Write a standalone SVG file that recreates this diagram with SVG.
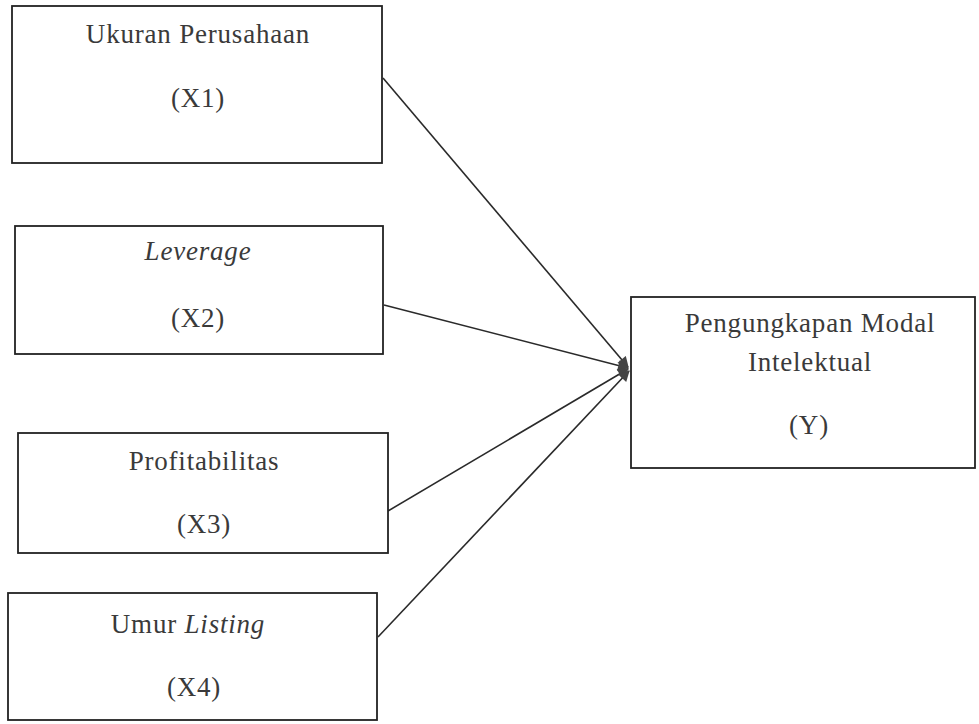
<svg xmlns="http://www.w3.org/2000/svg" width="979" height="724" viewBox="0 0 979 724">
<style>
.box{fill:#fff;stroke:#222;stroke-width:1.8}
.t{font-family:"Liberation Serif","Times New Roman",serif;font-size:27px;fill:#3a3a3a;text-anchor:middle;letter-spacing:0.8px}
.i{font-style:italic}
.c{fill:none;stroke:#2a2a2a;stroke-width:1.6}
</style>
<defs>
<marker id="ah" viewBox="0 0 10 10" refX="9" refY="5" markerWidth="13" markerHeight="11" orient="auto" markerUnits="userSpaceOnUse">
<path d="M0,0 L10,5 L0,10 z" fill="#444"/>
</marker>
</defs>
<rect width="979" height="724" fill="#fff"/>
<g id="connectors">
<line class="c" x1="383" y1="78" x2="628" y2="367" marker-end="url(#ah)"/>
<line class="c" x1="384" y1="305" x2="628" y2="368" marker-end="url(#ah)"/>
<line class="c" x1="388" y1="511" x2="628" y2="369" marker-end="url(#ah)"/>
<line class="c" x1="378" y1="637" x2="629" y2="371" marker-end="url(#ah)"/>
</g>
<g id="x1">
<rect class="box" x="12" y="6" width="370" height="157"/>
<text class="t" x="198" y="43">Ukuran Perusahaan</text>
<text class="t" x="198" y="107">(X1)</text>
</g>
<g id="x2">
<rect class="box" x="15" y="226" width="368" height="128"/>
<text class="t i" x="198" y="260">Leverage</text>
<text class="t" x="198" y="327">(X2)</text>
</g>
<g id="x3">
<rect class="box" x="18" y="433" width="370" height="120"/>
<text class="t" x="204" y="470">Profitabilitas</text>
<text class="t" x="204" y="533">(X3)</text>
</g>
<g id="x4">
<rect class="box" x="8" y="593" width="369" height="127"/>
<text class="t" x="188" y="633">Umur <tspan class="i">Listing</tspan></text>
<text class="t" x="194" y="696">(X4)</text>
</g>
<g id="y">
<rect class="box" x="631" y="297" width="344" height="171"/>
<text class="t" x="810" y="332">Pengungkapan Modal</text>
<text class="t" x="810" y="371">Intelektual</text>
<text class="t" x="809" y="434">(Y)</text>
</g>
</svg>
